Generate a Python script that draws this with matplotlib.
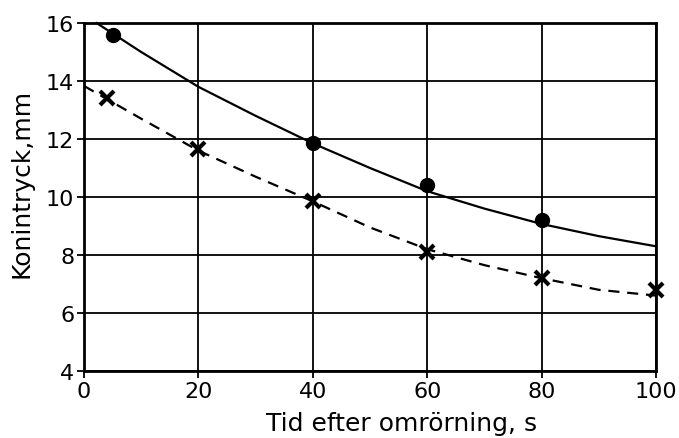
import numpy as np
import matplotlib.pyplot as plt

# measured points
tid_rund = [5, 40, 60, 80]
tryck_rund = [15.6, 11.85, 10.4, 9.2]

tid_kryss = [4, 20, 40, 60, 80, 100]
tryck_kryss = [13.4, 11.65, 9.85, 8.1, 7.2, 6.8]

# hand-drawn trend curves
kurva_hel_x = [2.2, 10, 20, 30, 40, 50, 60, 70, 80, 90, 100]
kurva_hel_y = [16.0, 15.0, 13.8, 12.8, 11.85, 11.0, 10.2, 9.6, 9.07, 8.65, 8.3]

kurva_streck_x = [0, 10, 20, 30, 40, 50, 60, 70, 80, 90, 100]
kurva_streck_y = [13.83, 12.7, 11.6, 10.7, 9.85, 8.95, 8.2, 7.65, 7.2, 6.8, 6.6]

x_ticks = [0, 20, 40, 60, 80, 100]
y_ticks = [4, 6, 8, 10, 12, 14, 16]

plt.rcParams['font.family'] = ['DejaVu Sans']

fig = plt.figure(figsize=(6.79, 4.39), dpi=100)
ax = fig.add_axes([0.1237, 0.1526, 0.8425, 0.7927])

ax.set_xlim(0, 100)
ax.set_ylim(4, 16)
ax.set_xticks(x_ticks)
ax.set_yticks(y_ticks)
ax.set_xticklabels([str(t) for t in x_ticks])
ax.set_yticklabels([str(t) for t in y_ticks])
ax.grid(True, color='black', linewidth=1.3)
ax.set_axisbelow(True)

for s in ax.spines.values():
    s.set_linewidth(2.0)
ax.tick_params(direction='out', length=5, width=1.3, labelsize=16, pad=2)

ax.plot(kurva_hel_x, kurva_hel_y, color='black', linewidth=1.6, clip_on=False)
ax.plot(kurva_streck_x, kurva_streck_y, color='black', linewidth=1.6,
        linestyle=(0, (5, 3.5)), clip_on=False)

ax.plot(tid_rund, tryck_rund, 'o', color='black', markersize=10, clip_on=False)
ax.plot(tid_kryss, tryck_kryss, 'x', color='black', markersize=10,
        markeredgewidth=3, clip_on=False)

ax.set_xlabel('Tid efter omrörning, s', fontsize=18, labelpad=6)
ax.set_ylabel('Konintryck,mm', fontsize=18, labelpad=4)
ax.xaxis.set_label_coords(0.556, -0.115)
ax.yaxis.set_label_coords(-0.088, 0.543)

fig.savefig('out.png', dpi=100)
